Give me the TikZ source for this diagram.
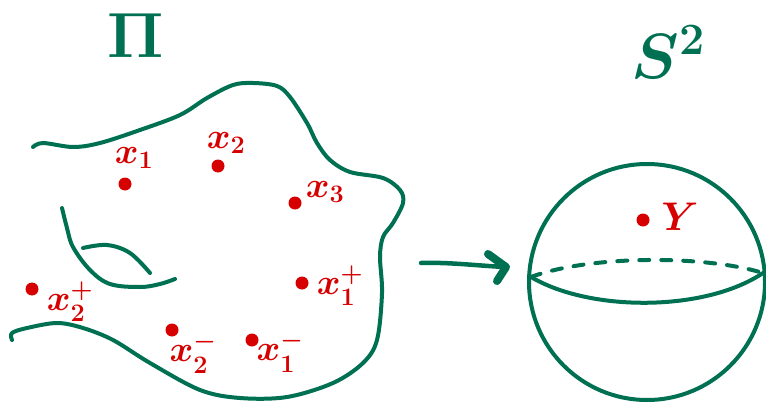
\RequirePackage{fix-cm}
\documentclass[tikz,border=0pt]{standalone}
\usetikzlibrary{arrows.meta}
\definecolor{ink}{RGB}{0,112,82}
\definecolor{redink}{RGB}{214,0,0}
\begin{document}
\begin{tikzpicture}[x=1pt,y=-1pt, line cap=round, line join=round,
  stroke/.style={draw=ink, line width=4pt},
  pt/.style={circle, fill=redink, inner sep=0pt, minimum size=13pt},
  lab/.style={text=redink, inner sep=0pt, font=\fontsize{36}{36}\selectfont\boldmath},
  biglab/.style={text=ink, inner sep=0pt, font=\fontsize{64}{64}\selectfont\boldmath}]
\useasboundingbox (0,0) rectangle (766,404);
% titles
\node[biglab] (pi) at (136,36) {$\Pi$};
\node[biglab] (s2) at (668,52) {$S^2$};
% region boundary
\draw[stroke] plot[smooth, tension=0.55] coordinates {
 (33,147) (43,143) (73,147) (100,143) (140,130) (180,115) (207,98) (233,85)
 (253,83) (277,86) (290,97) (307,123) (317,143) (330,160) (350,172) (383,178)
 (400,190) (403,203) (393,223) (383,237) (380,257) (382,293) (377,340)
 (363,363) (333,383) (287,397) (240,398) (200,390) (150,363) (113,340)
 (83,328) (57,323) (27,328) (12,333) (12,340)};
% handle
\draw[stroke] plot[smooth, tension=0.6] coordinates {
 (62,208) (67,228) (73,247) (90,270) (110,284) (140,287) (160,284) (175,279)};
\draw[stroke] plot[smooth, tension=0.6] coordinates {
 (83,248) (107,245) (130,253) (150,273)};
% points
\node[pt] (p1) at (125,184) {};
\node[pt] (p2) at (218,166) {};
\node[pt] (p3) at (295,203) {};
\node[pt] (p1p) at (302,283) {};
\node[pt] (p2p) at (32,289) {};
\node[pt] (p2m) at (172,330) {};
\node[pt] (p1m) at (252,340) {};
\node[lab] (l1) at (134,158) {$x_1$};
\node[lab] (l2) at (226,143) {$x_2$};
\node[lab] (l3) at (325,192) {$x_3$};
\node[lab] (l1p) at (340,286) {$x_1^+$};
\node[lab] (l2p) at (70,302) {$x_2^+$};
\node[lab] (l2m) at (193,353) {$x_2^-$};
\node[lab] (l1m) at (280,352) {$x_1^-$};
% arrow
\coordinate (a0) at (421,263);
\coordinate (a1) at (506,267);
\draw[ink, line width=4.5pt] (a0) .. controls (450,262) and (480,266) .. (a1);
\draw[ink, line width=8pt] (a1) +(-18,-13) -- (a1) -- +(-9,14);
% sphere
\node[circle, stroke, minimum size=236pt, inner sep=0pt] (sph) at (647,282) {};
\coordinate (eqL) at (531,277);
\coordinate (eqR) at (763,273);
\draw[stroke] (eqL) .. controls (590,312) and (705,312) .. (eqR);
\draw[ink, line width=4pt, dash pattern=on 10pt off 12pt] (eqL) .. controls (590,255) and (705,255) .. (eqR);
\node[pt] (py) at (643,220) {};
\node[text=redink, inner sep=0pt, font=\fontsize{40}{40}\selectfont\boldmath] (ly) at (680,217) {$Y$};
\end{tikzpicture}
\end{document}
